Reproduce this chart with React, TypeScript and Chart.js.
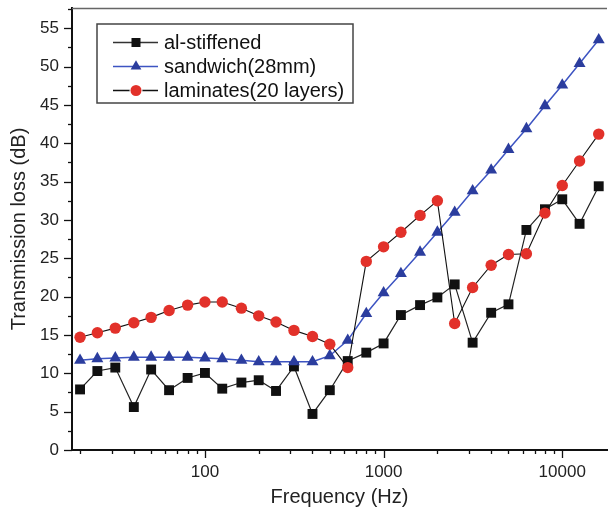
import React, { useEffect, useRef } from "react";
import { Chart, registerables } from "chart.js";

Chart.register(...registerables);

const frequencies = [
  20, 25, 31.5, 40, 50, 63, 80, 100, 125, 160, 200, 250, 315, 400, 500, 630,
  800, 1000, 1250, 1600, 2000, 2500, 3150, 4000, 5000, 6300, 8000, 10000,
  12500, 16000,
];
const alStiffened = [
  7.9, 10.3, 10.75, 5.6, 10.5, 7.8, 9.4, 10.05, 8.0, 8.8, 9.1, 7.7, 10.9, 4.7,
  7.8, 11.6, 12.7, 13.9, 17.6, 18.9, 19.9, 21.6, 14.0, 17.9, 19.0, 28.7, 31.4,
  32.7, 29.5, 34.4,
];
const sandwich = [
  11.7, 11.9, 12.0, 12.1, 12.1, 12.1, 12.1, 12.0, 11.9, 11.7, 11.5, 11.5, 11.5,
  11.5, 12.3, 14.3, 17.8, 20.5, 23.0, 25.8, 28.4, 31.0, 33.8, 36.5, 39.2, 41.9,
  44.9, 47.6, 50.4, 53.5,
];
const laminates = [
  14.7, 15.3, 15.9, 16.6, 17.3, 18.2, 18.9, 19.3, 19.3, 18.5, 17.5, 16.7, 15.6,
  14.8, 13.8, 10.75, 24.6, 26.5, 28.4, 30.6, 32.5, 16.5, 21.2, 24.1, 25.5, 25.6,
  30.9, 34.5, 37.7, 41.2,
];
const seriesNames = ["al-stiffened", "sandwich(28mm)", "laminates(20 layers)"];
const xTickValues = [100, 1000, 10000];
const yTickValues = [0, 5, 10, 15, 20, 25, 30, 35, 40, 45, 50, 55];

const FONT = "'Liberation Sans', Arial, Helvetica, sans-serif";
const BLUE = "#2b3d9e";
const BLUE_LINE = "#3d54c2";
const RED = "#e2312a";

function drawMarker(ctx: CanvasRenderingContext2D, style: string, x: number, y: number) {
  ctx.save();
  if (style === "rect") {
    ctx.fillStyle = "#111";
    ctx.fillRect(x - 4.5, y - 4.5, 9, 9);
  } else if (style === "triangle") {
    const r = 6.2;
    ctx.fillStyle = BLUE;
    ctx.beginPath();
    ctx.moveTo(x, y - r);
    ctx.lineTo(x + r * 0.866, y + r / 2);
    ctx.lineTo(x - r * 0.866, y + r / 2);
    ctx.closePath();
    ctx.fill();
  } else {
    ctx.fillStyle = RED;
    ctx.strokeStyle = "#fff";
    ctx.lineWidth = 2;
    ctx.beginPath();
    ctx.arc(x, y, 5.5, 0, Math.PI * 2);
    ctx.stroke();
    ctx.fill();
  }
  ctx.restore();
}

const decorPlugin = {
  id: "decor",
  afterDraw(chart: any) {
    const { ctx, chartArea } = chart;
    const xs = chart.scales.x;
    const ys = chart.scales.y;
    ctx.save();
    // top frame
    ctx.strokeStyle = "#666";
    ctx.lineWidth = 1.5;
    ctx.beginPath();
    ctx.moveTo(chartArea.left, chartArea.top + 0.5);
    ctx.lineTo(chartArea.right, chartArea.top + 0.5);
    ctx.stroke();

    // x ticks
    ctx.strokeStyle = "#111";
    ctx.lineWidth = 1.3;
    for (const dec of [10, 100, 1000, 10000]) {
      for (let m = 1; m <= 9; m++) {
        const v = m * dec;
        if (v < xs.min || v > xs.max) continue;
        const px = Math.round(xs.getPixelForValue(v)) + 0.5;
        const len = m === 1 ? 8 : 4;
        ctx.beginPath();
        ctx.moveTo(px, chartArea.bottom);
        ctx.lineTo(px, chartArea.bottom + len);
        ctx.stroke();
      }
    }
    // y ticks
    for (let v = 0; v <= ys.max + 1e-6; v += 2.5) {
      const py = Math.round(ys.getPixelForValue(v)) + 0.5;
      const len = Math.abs(v % 5) < 1e-6 ? 8 : 4;
      ctx.beginPath();
      ctx.moveTo(chartArea.left - len, py);
      ctx.lineTo(chartArea.left, py);
      ctx.stroke();
    }

    // legend
    const bx = 97, by = 24, bw = 256, bh = 79;
    ctx.fillStyle = "#fff";
    ctx.fillRect(bx, by, bw, bh);
    ctx.strokeStyle = "#444";
    ctx.lineWidth = 1.5;
    ctx.strokeRect(bx, by, bw, bh);
    const styles = ["rect", "triangle", "circle"];
    const lineColors = ["#333", BLUE_LINE, "#111"];
    for (let i = 0; i < 3; i++) {
      const cy = 42.5 + i * 24;
      ctx.strokeStyle = lineColors[i];
      ctx.lineWidth = 1.3;
      ctx.beginPath();
      ctx.moveTo(113, cy);
      ctx.lineTo(158, cy);
      ctx.stroke();
      drawMarker(ctx, styles[i], 136, cy);
      ctx.fillStyle = "#111";
      ctx.font = `20px ${FONT}`;
      ctx.textBaseline = "middle";
      ctx.textAlign = "left";
      ctx.fillText(seriesNames[i], 164, cy + 1);
    }
    ctx.restore();
  },
};

export default function App() {
  const ref = useRef<HTMLCanvasElement | null>(null);

  useEffect(() => {
    if (!ref.current) return;
    const toPts = (arr: number[]) => frequencies.map((f, i) => ({ x: f, y: arr[i] }));
    const chart = new Chart(ref.current, {
      type: "line",
      data: {
        datasets: [
          {
            label: seriesNames[0],
            data: toPts(alStiffened),
            borderColor: "#222",
            borderWidth: 1.2,
            pointStyle: "rect",
            pointRadius: 7.0,
            pointBackgroundColor: "#111",
            pointBorderColor: "#111",
            pointBorderWidth: 0,
            order: 3,
          },
          {
            label: seriesNames[1],
            data: toPts(sandwich),
            borderColor: BLUE_LINE,
            borderWidth: 1.5,
            pointStyle: "triangle",
            pointRadius: 6.9,
            pointBackgroundColor: BLUE,
            pointBorderColor: BLUE,
            pointBorderWidth: 0,
            order: 2,
          },
          {
            label: seriesNames[2],
            data: toPts(laminates),
            borderColor: "#111",
            borderWidth: 1.1,
            pointStyle: "circle",
            pointRadius: 5.7,
            pointBackgroundColor: RED,
            pointBorderColor: RED,
            pointBorderWidth: 0,
            order: 1,
          },
        ],
      },
      options: {
        animation: false,
        responsive: false,
        devicePixelRatio: 1,
        layout: { padding: { top: 8, right: 0, left: 0, bottom: 0 } },
        plugins: { legend: { display: false }, tooltip: { enabled: false } },
        elements: { line: { tension: 0 } },
        scales: {
          x: {
            type: "logarithmic",
            min: 18.03,
            max: 17800,
            grid: { display: true, drawOnChartArea: false, drawTicks: false },
            border: { display: true, color: "#111", width: 2 },
            afterBuildTicks: (scale: any) => {
              scale.ticks = xTickValues.map((v) => ({ value: v }));
            },
            ticks: {
              autoSkip: false,
              maxRotation: 0,
              padding: 12,
              color: "#222",
              font: { family: FONT, size: 17 },
              callback: (v: any) => String(v),
            },
            title: {
              display: true,
              text: "Frequency (Hz)",
              color: "#222",
              font: { family: FONT, size: 20 },
              padding: { top: 0, bottom: -2 },
            },
            afterFit: (scale: any) => {
              scale.height = 57;
              scale.paddingLeft = 0;
              scale.paddingRight = 0;
            },
          },
          y: {
            type: "linear",
            min: 0,
            max: 57.65,
            grid: { display: true, drawOnChartArea: false, drawTicks: false },
            border: { display: true, color: "#111", width: 2 },
            afterBuildTicks: (scale: any) => {
              scale.ticks = yTickValues.map((v) => ({ value: v }));
            },
            ticks: {
              padding: 13,
              color: "#222",
              font: { family: FONT, size: 17 },
              callback: (v: any) => String(v),
            },
            title: {
              display: true,
              text: "Transmission loss (dB)",
              color: "#222",
              font: { family: FONT, size: 20 },
              padding: { top: 7, bottom: 0 },
            },
            afterFit: (scale: any) => {
              scale.width = 72;
              scale.paddingTop = 0;
              scale.paddingBottom = 0;
            },
          },
        },
      },
      plugins: [decorPlugin],
    } as any);
    return () => chart.destroy();
  }, []);

  return (
    <div style={{ position: "absolute", left: 0, top: 0, width: 614, height: 507, background: "#fff" }}>
      <canvas ref={ref} width={614} height={507} style={{ display: "block" }} />
    </div>
  );
}
